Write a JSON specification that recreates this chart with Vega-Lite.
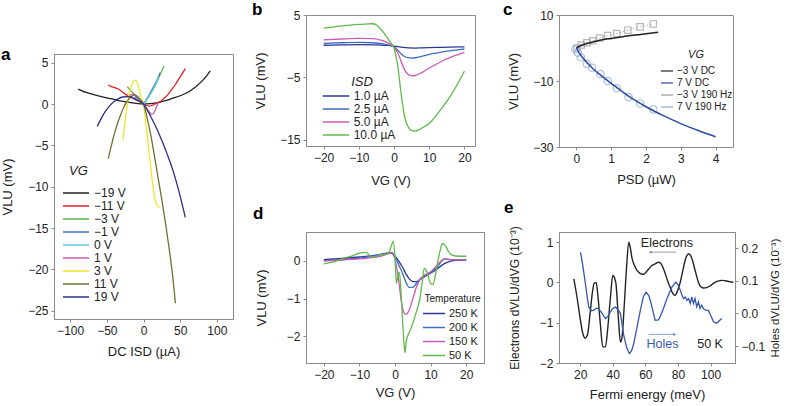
{
"$schema":"https://vega.github.io/schema/vega-lite/v6.json",
"padding":0,
"config":{"font":"Liberation Sans","view":{"stroke":"#8a8a8a","strokeWidth":1},
"axis":{"grid":false,"domainColor":"#8a8a8a","tickColor":"#8a8a8a","tickSize":3,"labelPadding":3,"labelFontSize":12,"labelColor":"#222","titleFontSize":13,"titleFontWeight":"normal","titleColor":"#222","labelFont":"Liberation Sans","titleFont":"Liberation Sans"},
"legend":{"labelFont":"Liberation Sans","titleFont":"Liberation Sans","labelColor":"#222","titleColor":"#222","titleFontWeight":"normal","padding":0},
"title":{"font":"Liberation Sans","fontSize":17,"fontWeight":"bold","anchor":"start","frame":"group","offset":0,"color":"#000","baseline":"alphabetic"},
"text":{"font":"Liberation Sans","fontSize":12.5,"color":"#222"}},
"datasets":{
"a":[
{"s":"−19 V","x":-89,"y":1.8},{"s":"−19 V","x":-84,"y":1.6},{"s":"−19 V","x":-78,"y":1.4},{"s":"−19 V","x":-70,"y":1.2},{"s":"−19 V","x":-60,"y":0.95},{"s":"−19 V","x":-50,"y":0.75},{"s":"−19 V","x":-40,"y":0.55},{"s":"−19 V","x":-30,"y":0.35},{"s":"−19 V","x":-20,"y":0.2},{"s":"−19 V","x":-10,"y":0.08},{"s":"−19 V","x":0,"y":0},{"s":"−19 V","x":10,"y":0.05},{"s":"−19 V","x":20,"y":0.18},{"s":"−19 V","x":30,"y":0.4},{"s":"−19 V","x":40,"y":0.7},{"s":"−19 V","x":50,"y":1.0},{"s":"−19 V","x":60,"y":1.4},{"s":"−19 V","x":70,"y":2.0},{"s":"−19 V","x":80,"y":2.8},{"s":"−19 V","x":86,"y":3.4},{"s":"−19 V","x":91,"y":4.0},
{"s":"−11 V","x":-48,"y":2.3},{"s":"−11 V","x":-44,"y":2.1},{"s":"−11 V","x":-40,"y":2.0},{"s":"−11 V","x":-35,"y":1.85},{"s":"−11 V","x":-30,"y":1.55},{"s":"−11 V","x":-25,"y":1.2},{"s":"−11 V","x":-20,"y":0.95},{"s":"−11 V","x":-15,"y":0.7},{"s":"−11 V","x":-10,"y":0.5},{"s":"−11 V","x":-5,"y":0.25},{"s":"−11 V","x":0,"y":0},{"s":"−11 V","x":4,"y":-0.15},{"s":"−11 V","x":8,"y":-0.25},{"s":"−11 V","x":12,"y":-0.15},{"s":"−11 V","x":18,"y":0.1},{"s":"−11 V","x":23,"y":0.3},{"s":"−11 V","x":28,"y":0.7},{"s":"−11 V","x":33,"y":1.1},{"s":"−11 V","x":38,"y":1.7},{"s":"−11 V","x":43,"y":2.3},{"s":"−11 V","x":48,"y":3.0},{"s":"−11 V","x":53,"y":3.7},{"s":"−11 V","x":57,"y":4.3},
{"s":"−3 V","x":-22,"y":2.1},{"s":"−3 V","x":-19,"y":1.8},{"s":"−3 V","x":-16,"y":1.5},{"s":"−3 V","x":-12,"y":1.1},{"s":"−3 V","x":-8,"y":0.7},{"s":"−3 V","x":-4,"y":0.3},{"s":"−3 V","x":0,"y":0},{"s":"−3 V","x":4,"y":0.5},{"s":"−3 V","x":8,"y":1.0},{"s":"−3 V","x":12,"y":1.6},{"s":"−3 V","x":16,"y":2.3},{"s":"−3 V","x":20,"y":3.0},{"s":"−3 V","x":24,"y":3.8},{"s":"−3 V","x":28,"y":4.6},
{"s":"−1 V","x":-12,"y":0.9},{"s":"−1 V","x":-8,"y":0.65},{"s":"−1 V","x":-4,"y":0.35},{"s":"−1 V","x":0,"y":0},{"s":"−1 V","x":4,"y":0.55},{"s":"−1 V","x":8,"y":1.15},{"s":"−1 V","x":12,"y":1.8},{"s":"−1 V","x":16,"y":2.5},{"s":"−1 V","x":20,"y":3.2},{"s":"−1 V","x":22.5,"y":3.8},
{"s":"0 V","x":-10,"y":0.7},{"s":"0 V","x":-6,"y":0.45},{"s":"0 V","x":-3,"y":0.2},{"s":"0 V","x":0,"y":0},{"s":"0 V","x":4,"y":0.45},{"s":"0 V","x":8,"y":1.0},{"s":"0 V","x":12,"y":1.6},{"s":"0 V","x":16,"y":2.3},{"s":"0 V","x":20.5,"y":3.3},
{"s":"1 V","x":-22,"y":0.9},{"s":"1 V","x":-17,"y":1.15},{"s":"1 V","x":-13,"y":1.2},{"s":"1 V","x":-9,"y":0.9},{"s":"1 V","x":-5,"y":0.5},{"s":"1 V","x":0,"y":0},{"s":"1 V","x":4,"y":-0.5},{"s":"1 V","x":8,"y":-0.95},{"s":"1 V","x":11,"y":-1.25},{"s":"1 V","x":14,"y":-1.1},{"s":"1 V","x":17,"y":-0.5},{"s":"1 V","x":20,"y":0.1},
{"s":"3 V","x":-28,"y":-4.3},{"s":"3 V","x":-26,"y":-2.7},{"s":"3 V","x":-24,"y":-1.2},{"s":"3 V","x":-22,"y":0.0},{"s":"3 V","x":-20,"y":1.0},{"s":"3 V","x":-18,"y":1.8},{"s":"3 V","x":-16,"y":2.3},{"s":"3 V","x":-14,"y":2.7},{"s":"3 V","x":-12,"y":2.9},{"s":"3 V","x":-10,"y":2.85},{"s":"3 V","x":-8,"y":2.5},{"s":"3 V","x":-6,"y":1.8},{"s":"3 V","x":-4,"y":1.1},{"s":"3 V","x":-2,"y":0.5},{"s":"3 V","x":0,"y":0},{"s":"3 V","x":3,"y":-2.2},{"s":"3 V","x":6,"y":-4.6},{"s":"3 V","x":9,"y":-7.0},{"s":"3 V","x":12,"y":-9.3},{"s":"3 V","x":15,"y":-11.3},{"s":"3 V","x":17,"y":-12.0},{"s":"3 V","x":19,"y":-12.3},{"s":"3 V","x":22,"y":-12.5},
{"s":"11 V","x":-48,"y":-6.6},{"s":"11 V","x":-44,"y":-5.1},{"s":"11 V","x":-40,"y":-3.7},{"s":"11 V","x":-36,"y":-2.5},{"s":"11 V","x":-32,"y":-1.5},{"s":"11 V","x":-28,"y":-0.6},{"s":"11 V","x":-24,"y":0.1},{"s":"11 V","x":-20,"y":0.6},{"s":"11 V","x":-16,"y":0.95},{"s":"11 V","x":-12,"y":1.1},{"s":"11 V","x":-8,"y":0.9},{"s":"11 V","x":-4,"y":0.5},{"s":"11 V","x":0,"y":0},{"s":"11 V","x":5,"y":-1.7},{"s":"11 V","x":10,"y":-3.8},{"s":"11 V","x":15,"y":-6.3},{"s":"11 V","x":20,"y":-9.0},{"s":"11 V","x":25,"y":-11.6},{"s":"11 V","x":30,"y":-14.4},{"s":"11 V","x":35,"y":-17.5},{"s":"11 V","x":40,"y":-21.0},{"s":"11 V","x":43.5,"y":-24.1},
{"s":"19 V","x":-63,"y":-2.7},{"s":"19 V","x":-58,"y":-1.8},{"s":"19 V","x":-52,"y":-0.9},{"s":"19 V","x":-46,"y":-0.2},{"s":"19 V","x":-40,"y":0.3},{"s":"19 V","x":-34,"y":0.65},{"s":"19 V","x":-28,"y":0.85},{"s":"19 V","x":-22,"y":0.9},{"s":"19 V","x":-16,"y":0.8},{"s":"19 V","x":-10,"y":0.55},{"s":"19 V","x":-5,"y":0.3},{"s":"19 V","x":0,"y":0},{"s":"19 V","x":8,"y":-1.2},{"s":"19 V","x":16,"y":-2.6},{"s":"19 V","x":24,"y":-4.2},{"s":"19 V","x":32,"y":-6.0},{"s":"19 V","x":40,"y":-8.0},{"s":"19 V","x":46,"y":-9.8},{"s":"19 V","x":51,"y":-11.5},{"s":"19 V","x":54,"y":-12.6},{"s":"19 V","x":57,"y":-13.7}
],
"b":[
{"s":"1.0 µA","x":-20,"y":0.15},{"s":"1.0 µA","x":-15,"y":0.2},{"s":"1.0 µA","x":-10,"y":0.25},{"s":"1.0 µA","x":-5,"y":0.22},{"s":"1.0 µA","x":-2,"y":0.12},{"s":"1.0 µA","x":0,"y":0},{"s":"1.0 µA","x":2,"y":-0.15},{"s":"1.0 µA","x":4,"y":-0.28},{"s":"1.0 µA","x":6,"y":-0.3},{"s":"1.0 µA","x":8,"y":-0.27},{"s":"1.0 µA","x":12,"y":-0.2},{"s":"1.0 µA","x":16,"y":-0.14},{"s":"1.0 µA","x":20,"y":-0.1},
{"s":"2.5 µA","x":-20,"y":0.45},{"s":"2.5 µA","x":-15,"y":0.55},{"s":"2.5 µA","x":-10,"y":0.6},{"s":"2.5 µA","x":-6,"y":0.55},{"s":"2.5 µA","x":-3,"y":0.35},{"s":"2.5 µA","x":-1,"y":0.1},{"s":"2.5 µA","x":0,"y":-0.1},{"s":"2.5 µA","x":1,"y":-0.6},{"s":"2.5 µA","x":2,"y":-1.2},{"s":"2.5 µA","x":3,"y":-1.65},{"s":"2.5 µA","x":4,"y":-1.85},{"s":"2.5 µA","x":5,"y":-1.9},{"s":"2.5 µA","x":6,"y":-1.85},{"s":"2.5 µA","x":8,"y":-1.6},{"s":"2.5 µA","x":10,"y":-1.3},{"s":"2.5 µA","x":12,"y":-1.1},{"s":"2.5 µA","x":15,"y":-0.8},{"s":"2.5 µA","x":18,"y":-0.6},{"s":"2.5 µA","x":20,"y":-0.45},
{"s":"5.0 µA","x":-20,"y":1.0},{"s":"5.0 µA","x":-15,"y":1.15},{"s":"5.0 µA","x":-10,"y":1.25},{"s":"5.0 µA","x":-6,"y":1.2},{"s":"5.0 µA","x":-4,"y":1.0},{"s":"5.0 µA","x":-2,"y":0.6},{"s":"5.0 µA","x":0,"y":-0.2},{"s":"5.0 µA","x":1,"y":-1.0},{"s":"5.0 µA","x":2,"y":-2.4},{"s":"5.0 µA","x":3,"y":-3.8},{"s":"5.0 µA","x":4,"y":-4.5},{"s":"5.0 µA","x":5,"y":-4.75},{"s":"5.0 µA","x":6,"y":-4.7},{"s":"5.0 µA","x":8,"y":-4.2},{"s":"5.0 µA","x":10,"y":-3.5},{"s":"5.0 µA","x":12,"y":-2.9},{"s":"5.0 µA","x":14,"y":-2.3},{"s":"5.0 µA","x":16,"y":-1.8},{"s":"5.0 µA","x":18,"y":-1.4},{"s":"5.0 µA","x":20,"y":-1.0},
{"s":"10.0 µA","x":-20,"y":2.9},{"s":"10.0 µA","x":-17,"y":3.1},{"s":"10.0 µA","x":-14,"y":3.3},{"s":"10.0 µA","x":-11,"y":3.45},{"s":"10.0 µA","x":-8,"y":3.55},{"s":"10.0 µA","x":-6,"y":3.6},{"s":"10.0 µA","x":-5,"y":3.4},{"s":"10.0 µA","x":-4,"y":2.9},{"s":"10.0 µA","x":-3,"y":2.2},{"s":"10.0 µA","x":-2,"y":1.4},{"s":"10.0 µA","x":-1,"y":0.6},{"s":"10.0 µA","x":0,"y":-0.3},{"s":"10.0 µA","x":1,"y":-3.0},{"s":"10.0 µA","x":2,"y":-7.5},{"s":"10.0 µA","x":3,"y":-11.3},{"s":"10.0 µA","x":4,"y":-12.9},{"s":"10.0 µA","x":5,"y":-13.5},{"s":"10.0 µA","x":6,"y":-13.6},{"s":"10.0 µA","x":7,"y":-13.4},{"s":"10.0 µA","x":8,"y":-13.1},{"s":"10.0 µA","x":10,"y":-12.4},{"s":"10.0 µA","x":12,"y":-11.1},{"s":"10.0 µA","x":14,"y":-9.6},{"s":"10.0 µA","x":16,"y":-8.0},{"s":"10.0 µA","x":18,"y":-6.1},{"s":"10.0 µA","x":20,"y":-4.0}
],
"c":[
{"s":"−3 V DC","x":0,"y":0},{"s":"−3 V DC","x":0.1,"y":0.6},{"s":"−3 V DC","x":0.25,"y":1.2},{"s":"−3 V DC","x":0.5,"y":1.9},{"s":"−3 V DC","x":0.75,"y":2.5},{"s":"−3 V DC","x":1.0,"y":2.9},{"s":"−3 V DC","x":1.25,"y":3.3},{"s":"−3 V DC","x":1.5,"y":3.7},{"s":"−3 V DC","x":1.75,"y":4.0},{"s":"−3 V DC","x":2.0,"y":4.35},{"s":"−3 V DC","x":2.35,"y":4.8},
{"s":"7 V DC","x":0,"y":0},{"s":"7 V DC","x":0.1,"y":-1.8},{"s":"7 V DC","x":0.25,"y":-3.8},{"s":"7 V DC","x":0.5,"y":-6.5},{"s":"7 V DC","x":0.75,"y":-8.7},{"s":"7 V DC","x":1.0,"y":-10.7},{"s":"7 V DC","x":1.5,"y":-14.6},{"s":"7 V DC","x":2.0,"y":-17.8},{"s":"7 V DC","x":2.5,"y":-20.5},{"s":"7 V DC","x":3.0,"y":-22.9},{"s":"7 V DC","x":3.5,"y":-25.0},{"s":"7 V DC","x":4.0,"y":-26.9},
{"s":"−3 V 190 Hz","x":0.02,"y":0.0},{"s":"−3 V 190 Hz","x":0.14,"y":0.9},{"s":"−3 V 190 Hz","x":0.3,"y":1.6},{"s":"−3 V 190 Hz","x":0.47,"y":2.2},{"s":"−3 V 190 Hz","x":0.67,"y":3.0},{"s":"−3 V 190 Hz","x":0.9,"y":3.8},{"s":"−3 V 190 Hz","x":1.16,"y":4.4},{"s":"−3 V 190 Hz","x":1.48,"y":5.4},{"s":"−3 V 190 Hz","x":1.83,"y":6.4},{"s":"−3 V 190 Hz","x":2.21,"y":7.3},
{"s":"7 V 190 Hz","x":-0.03,"y":-0.4},{"s":"7 V 190 Hz","x":0.04,"y":-1.4},{"s":"7 V 190 Hz","x":0.13,"y":-2.8},{"s":"7 V 190 Hz","x":0.3,"y":-4.8},{"s":"7 V 190 Hz","x":0.45,"y":-6.0},{"s":"7 V 190 Hz","x":0.69,"y":-7.9},{"s":"7 V 190 Hz","x":0.9,"y":-10.0},{"s":"7 V 190 Hz","x":1.16,"y":-12.2},{"s":"7 V 190 Hz","x":1.5,"y":-14.9},{"s":"7 V 190 Hz","x":1.83,"y":-16.8},{"s":"7 V 190 Hz","x":2.21,"y":-18.6}
],
"d":[
{"s":"250 K","x":-20,"y":0.03},{"s":"250 K","x":-15,"y":0.06},{"s":"250 K","x":-10,"y":0.1},{"s":"250 K","x":-5,"y":0.15},{"s":"250 K","x":-2,"y":0.2},{"s":"250 K","x":-1,"y":0.2},{"s":"250 K","x":0,"y":0.12},{"s":"250 K","x":1,"y":0.0},{"s":"250 K","x":2,"y":-0.15},{"s":"250 K","x":3,"y":-0.33},{"s":"250 K","x":4,"y":-0.48},{"s":"250 K","x":5,"y":-0.55},{"s":"250 K","x":6,"y":-0.55},{"s":"250 K","x":7,"y":-0.5},{"s":"250 K","x":8,"y":-0.44},{"s":"250 K","x":10,"y":-0.33},{"s":"250 K","x":12,"y":-0.2},{"s":"250 K","x":14,"y":-0.07},{"s":"250 K","x":16,"y":0.0},{"s":"250 K","x":18,"y":0.02},{"s":"250 K","x":20,"y":0.02},
{"s":"200 K","x":-20,"y":0.0},{"s":"200 K","x":-15,"y":0.03},{"s":"200 K","x":-10,"y":0.07},{"s":"200 K","x":-5,"y":0.14},{"s":"200 K","x":-2,"y":0.2},{"s":"200 K","x":-1,"y":0.22},{"s":"200 K","x":0,"y":0.12},{"s":"200 K","x":1,"y":-0.1},{"s":"200 K","x":2,"y":-0.3},{"s":"200 K","x":3,"y":-0.55},{"s":"200 K","x":4,"y":-0.7},{"s":"200 K","x":5,"y":-0.7},{"s":"200 K","x":6,"y":-0.6},{"s":"200 K","x":7,"y":-0.48},{"s":"200 K","x":8,"y":-0.4},{"s":"200 K","x":10,"y":-0.3},{"s":"200 K","x":12,"y":-0.15},{"s":"200 K","x":13,"y":-0.02},{"s":"200 K","x":14,"y":0.05},{"s":"200 K","x":16,"y":0.03},{"s":"200 K","x":20,"y":0.02},
{"s":"150 K","x":-20,"y":0.0},{"s":"150 K","x":-15,"y":0.02},{"s":"150 K","x":-10,"y":0.05},{"s":"150 K","x":-5,"y":0.1},{"s":"150 K","x":-3,"y":0.15},{"s":"150 K","x":-1,"y":0.2},{"s":"150 K","x":0,"y":0.05},{"s":"150 K","x":1,"y":-0.5},{"s":"150 K","x":2,"y":-1.2},{"s":"150 K","x":3,"y":-1.42},{"s":"150 K","x":4,"y":-1.3},{"s":"150 K","x":5,"y":-1.0},{"s":"150 K","x":6,"y":-0.7},{"s":"150 K","x":7,"y":-0.5},{"s":"150 K","x":8,"y":-0.4},{"s":"150 K","x":9,"y":-0.35},{"s":"150 K","x":10,"y":-0.3},{"s":"150 K","x":11,"y":-0.2},{"s":"150 K","x":12,"y":-0.1},{"s":"150 K","x":13,"y":0.0},{"s":"150 K","x":14,"y":0.05},{"s":"150 K","x":16,"y":0.03},{"s":"150 K","x":20,"y":0.02},
{"s":"50 K","x":-20,"y":-0.08},{"s":"50 K","x":-17,"y":-0.02},{"s":"50 K","x":-14,"y":0.08},{"s":"50 K","x":-12,"y":0.13},{"s":"50 K","x":-10,"y":0.2},{"s":"50 K","x":-8,"y":0.22},{"s":"50 K","x":-7,"y":0.12},{"s":"50 K","x":-6,"y":0.1},{"s":"50 K","x":-4,"y":0.16},{"s":"50 K","x":-2,"y":0.18},{"s":"50 K","x":-1,"y":0.4},{"s":"50 K","x":-0.5,"y":0.52},{"s":"50 K","x":0,"y":0.1},{"s":"50 K","x":0.4,"y":-0.6},{"s":"50 K","x":0.8,"y":-0.4},{"s":"50 K","x":1.2,"y":-0.3},{"s":"50 K","x":1.8,"y":-1.0},{"s":"50 K","x":2.4,"y":-2.0},{"s":"50 K","x":2.8,"y":-2.43},{"s":"50 K","x":3.2,"y":-2.1},{"s":"50 K","x":4,"y":-1.9},{"s":"50 K","x":5,"y":-1.65},{"s":"50 K","x":6,"y":-1.35},{"s":"50 K","x":7,"y":-1.0},{"s":"50 K","x":7.6,"y":-0.6},{"s":"50 K","x":8.2,"y":-0.2},{"s":"50 K","x":9,"y":-0.3},{"s":"50 K","x":10,"y":-0.6},{"s":"50 K","x":10.7,"y":-0.62},{"s":"50 K","x":11.5,"y":-0.3},{"s":"50 K","x":12.5,"y":0.2},{"s":"50 K","x":13.3,"y":0.45},{"s":"50 K","x":14,"y":0.42},{"s":"50 K","x":15,"y":0.25},{"s":"50 K","x":16,"y":0.15},{"s":"50 K","x":18,"y":0.12},{"s":"50 K","x":20,"y":0.12}
],
"e1":[
{"x":16.1,"y":0.09},{"x":18,"y":-0.35},{"x":20,"y":-0.9},{"x":21.5,"y":-1.25},{"x":23,"y":-1.38},{"x":24.5,"y":-1.3},{"x":26,"y":-0.8},{"x":27.5,"y":-0.25},{"x":28.5,"y":-0.03},{"x":29.8,"y":0.0},{"x":30.8,"y":-0.3},{"x":32.3,"y":-1.0},{"x":33.9,"y":-1.6},{"x":35.5,"y":-1.6},{"x":37,"y":-1.1},{"x":38.5,"y":-0.4},{"x":40,"y":0.17},{"x":41,"y":0.12},{"x":42,"y":-0.05},{"x":43.3,"y":-0.8},{"x":44.7,"y":-1.48},{"x":45.7,"y":-1.35},{"x":47,"y":-0.6},{"x":48.5,"y":0.4},{"x":49.8,"y":1.0},{"x":50.8,"y":0.85},{"x":51.8,"y":0.6},{"x":53.3,"y":0.42},{"x":54.9,"y":0.3},{"x":57,"y":0.22},{"x":59,"y":0.2},{"x":60.5,"y":0.26},{"x":62,"y":0.33},{"x":64,"y":0.42},{"x":66,"y":0.46},{"x":68,"y":0.5},{"x":69.5,"y":0.47},{"x":71,"y":0.35},{"x":72.5,"y":0.18},{"x":74,"y":0.0},{"x":75.2,"y":-0.12},{"x":76.8,"y":-0.27},{"x":78.3,"y":-0.32},{"x":79.8,"y":-0.2},{"x":81.4,"y":0.0},{"x":83,"y":0.3},{"x":84.8,"y":0.6},{"x":86.5,"y":0.71},{"x":88.5,"y":0.6},{"x":90.5,"y":0.3},{"x":92.6,"y":0.0},{"x":94,"y":-0.11},{"x":95.7,"y":-0.14},{"x":97.5,"y":-0.13},{"x":99.7,"y":-0.09},{"x":102,"y":-0.02},{"x":104.5,"y":0.03},{"x":106.9,"y":0.05},{"x":109,"y":0.04},{"x":111.5,"y":0.02},{"x":114,"y":0.0}
],
"e2":[
{"x":20.2,"y":0.187},{"x":21.5,"y":0.15},{"x":23.2,"y":0.091},{"x":24.3,"y":0.05},{"x":25.3,"y":0.019},{"x":27,"y":0.008},{"x":28.4,"y":0.01},{"x":30,"y":0.016},{"x":31.4,"y":0.014},{"x":33.5,"y":0.0},{"x":35.5,"y":-0.016},{"x":37,"y":-0.01},{"x":38.5,"y":0.004},{"x":40,"y":0.015},{"x":41.6,"y":0.019},{"x":43.2,"y":0.012},{"x":44.7,"y":0.0},{"x":46.7,"y":-0.067},{"x":48.5,"y":-0.105},{"x":50.2,"y":-0.123},{"x":51.5,"y":-0.115},{"x":52.8,"y":-0.094},{"x":55,"y":-0.04},{"x":56.9,"y":0.009},{"x":58.7,"y":0.05},{"x":60.4,"y":0.065},{"x":62,"y":0.055},{"x":63,"y":0.04},{"x":64.5,"y":0.01},{"x":66,"y":-0.021},{"x":68.1,"y":-0.02},{"x":70,"y":0.0},{"x":72.2,"y":0.03},{"x":74,"y":0.055},{"x":76.3,"y":0.08},{"x":78.7,"y":0.096},{"x":80,"y":0.088},{"x":81.4,"y":0.071},{"x":82.5,"y":0.055},{"x":83.4,"y":0.045},{"x":84.5,"y":0.05},{"x":85.5,"y":0.04},{"x":86.5,"y":0.045},{"x":87.5,"y":0.03},{"x":88.5,"y":0.05},{"x":89.5,"y":0.03},{"x":90.5,"y":0.045},{"x":91.5,"y":0.02},{"x":92.6,"y":0.035},{"x":93.5,"y":0.015},{"x":94.5,"y":0.025},{"x":95.7,"y":0.014},{"x":97,"y":0.01},{"x":98.7,"y":0.009},{"x":100,"y":-0.005},{"x":101.8,"y":-0.026},{"x":103.8,"y":-0.03},{"x":105.5,"y":-0.022},{"x":106.9,"y":-0.016}
]
},
"hconcat":[
{"vconcat":[
 {"width":179,"height":39,"data":{"values":[{}]},"mark":{"type":"text"},"encoding":{"text":{"value":""}},"view":{"stroke":null}},
 {"width":179,"height":265,
  "title":{"text":"a","dx":-53,"dy":14},
  "layer":[
   {"mark":{"type":"rule","color":"#8a8a8a","strokeWidth":1},"encoding":{"y":{"datum":0}}},
   {"mark":{"type":"rule","color":"#8a8a8a","strokeWidth":1},"encoding":{"x":{"datum":0}}},
   {"data":{"name":"a"},"mark":{"type":"line","interpolate":"monotone","strokeWidth":1.3},
    "encoding":{
     "x":{"field":"x","type":"quantitative","scale":{"domain":[-122,122],"nice":false,"zero":false},"axis":{"title":"DC ISD (µA)","values":[-100,-50,0,50,100],"titlePadding":9}},
     "y":{"field":"y","type":"quantitative","scale":{"domain":[-26,6.05],"nice":false,"zero":false},"axis":{"title":"VLU (mV)","values":[-25,-20,-15,-10,-5,0,5],"titlePadding":13}},
     "color":{"field":"s","type":"nominal","scale":{"domain":["−19 V","−11 V","−3 V","−1 V","0 V","1 V","3 V","11 V","19 V"],"range":["#231f20","#e41f26","#5bb947","#4070c0","#62cde3","#c45ab3","#f0e32a","#707035","#2d2f87"]},
      "legend":{"title":"VG","orient":"none","legendX":15,"legendY":150,"symbolType":"M-2.17,0H2.17","symbolSize":144,"symbolStrokeWidth":1.5,"labelFontSize":12,"titleFontSize":13,"titleFontStyle":"italic","titlePadding":8,"labelOffset":11,"rowPadding":0}}}},
   {"mark":{"type":"text","align":"center","fontSize":12.5},"encoding":{"x":{"datum":82},"y":{"datum":-22.2},"text":{"value":"300 K"}}}
  ]}
 ],"spacing":0,"bounds":"flush"},
{"vconcat":[
  {"width":169,"height":131,
   "title":{"text":"b","dx":-54,"dy":14},
   "layer":[
    {"mark":{"type":"rule","color":"#8a8a8a","strokeWidth":1},"encoding":{"y":{"datum":0}}},
    {"mark":{"type":"rule","color":"#8a8a8a","strokeWidth":1},"encoding":{"x":{"datum":0}}},
    {"data":{"name":"b"},"mark":{"type":"line","interpolate":"monotone","strokeWidth":1.3},
     "encoding":{
      "x":{"field":"x","type":"quantitative","scale":{"domain":[-25,23],"nice":false,"zero":false},"axis":{"title":"VG (V)","values":[-20,-10,0,10,20],"titlePadding":11}},
      "y":{"field":"y","type":"quantitative","scale":{"domain":[-16,5],"nice":false,"zero":false},"axis":{"title":"VLU (mV)","values":[-15,-10,-5,0,5],"titlePadding":12}},
      "color":{"field":"s","type":"nominal","scale":{"domain":["1.0 µA","2.5 µA","5.0 µA","10.0 µA"],"range":["#283891","#3d6cc4","#c95ab5","#5fba4a"]},
       "legend":{"title":"ISD","orient":"none","legendX":23,"legendY":61,"symbolType":"M-2.2,0H2.2","symbolSize":144,"symbolStrokeWidth":1.5,"labelFontSize":12,"titleFontSize":13,"titleFontStyle":"italic","titlePadding":0,"labelOffset":10.7,"rowPadding":0,"titleAnchor":"middle"}}}},
    {"mark":{"type":"text","align":"left","fontSize":12.5},"encoding":{"x":{"datum":3.9},"y":{"datum":3.8},"text":{"value":"300 K"}}},
    {"mark":{"type":"text","align":"left","fontSize":12.5},"encoding":{"x":{"datum":3.9},"y":{"datum":1.6},"text":{"value":"190 Hz"}}}
   ]},
  {"width":178,"height":131,
   "title":{"text":"d","dx":-53,"dy":-5},
   "layer":[
    {"mark":{"type":"rule","color":"#8a8a8a","strokeWidth":1},"encoding":{"y":{"datum":0}}},
    {"mark":{"type":"rule","color":"#8a8a8a","strokeWidth":1},"encoding":{"x":{"datum":0}}},
    {"data":{"name":"d"},"mark":{"type":"line","interpolate":"monotone","strokeWidth":1.3},
     "encoding":{
      "x":{"field":"x","type":"quantitative","scale":{"domain":[-25,25],"nice":false,"zero":false},"axis":{"title":"VG (V)","values":[-20,-10,0,10,20],"titlePadding":6}},
      "y":{"field":"y","type":"quantitative","scale":{"domain":[-2.7,0.76],"nice":false,"zero":false},"axis":{"title":"VLU (mV)","values":[-2,-1,0],"titlePadding":18}},
      "color":{"field":"s","type":"nominal","scale":{"domain":["250 K","200 K","150 K","50 K"],"range":["#283891","#3d6cc4","#c95ab5","#5fba4a"]},
       "legend":{"title":"Temperature","orient":"none","legendX":118.5,"legendY":62,"symbolType":"M-2,0H2","symbolSize":121,"symbolStrokeWidth":1.5,"labelFontSize":11,"titleFontSize":10,"titlePadding":3,"labelOffset":8.5,"rowPadding":2,"titleAnchor":"middle"}}}},
    {"mark":{"type":"text","align":"left","fontSize":12.5},"encoding":{"x":{"datum":-22.1},"y":{"datum":-2.0},"text":{"value":"5 µA"}}},
    {"mark":{"type":"text","align":"left","fontSize":12.5},"encoding":{"x":{"datum":-22.1},"y":{"datum":-2.45},"text":{"value":"190 Hz"}}}
   ]}
 ],"spacing":86,"bounds":"flush","resolve":{"scale":{"color":"independent"},"legend":{"color":"independent"}}},
{"vconcat":[
  {"width":174,"height":132,
   "title":{"text":"c","dx":-56,"dy":14},
   "layer":[
    {"mark":{"type":"rule","color":"#8a8a8a","strokeWidth":1},"encoding":{"y":{"datum":0}}},
    {"data":{"name":"c"},"transform":[{"filter":{"field":"s","oneOf":["−3 V 190 Hz","7 V 190 Hz"]}}],
     "mark":{"type":"line","strokeDash":[1.5,2],"strokeWidth":1,"opacity":0.8},
     "encoding":{"x":{"field":"x","type":"quantitative","scale":{"domain":[-0.5,4.5],"nice":false,"zero":false},"axis":{"title":"PSD (µW)","values":[0,1,2,3,4],"titlePadding":9}},
      "y":{"field":"y","type":"quantitative","scale":{"domain":[-30,10],"nice":false,"zero":false},"axis":{"title":"VLU (mV)","values":[-30,-20,-10,0,10],"titlePadding":12}},
      "color":{"field":"s","type":"nominal","scale":{"domain":["−3 V DC","7 V DC","−3 V 190 Hz","7 V 190 Hz"],"range":["#222222","#2c4ca0","#9a9a9a","#8da7d8"]},
       "legend":{"title":"VG","orient":"none","legendX":101,"legendY":34,"symbolType":"stroke","symbolSize":144,"symbolStrokeWidth":1.5,"labelFontSize":10,"titleFontSize":11,"titleFontStyle":"italic","titlePadding":4,"labelOffset":3,"rowPadding":0,"titleAnchor":"middle",
        "encode":{"symbols":{"update":{"shape":{"signal":"datum.value === '−3 V 190 Hz' ? 'square' : datum.value === '7 V 190 Hz' ? 'circle' : 'stroke'"},"size":{"signal":"datum.value === '−3 V 190 Hz' ? 40 : datum.value === '7 V 190 Hz' ? 50 : 144"},"fill":{"value":"transparent"}}}}}}}},
    {"data":{"name":"c"},"transform":[{"filter":{"field":"s","equal":"−3 V 190 Hz"}}],
     "mark":{"type":"point","shape":"square","filled":false,"size":40,"strokeWidth":1.2},
     "encoding":{"x":{"field":"x","type":"quantitative"},"y":{"field":"y","type":"quantitative"},"color":{"field":"s","type":"nominal"}}},
    {"data":{"name":"c"},"transform":[{"filter":{"field":"s","equal":"7 V 190 Hz"}}],
     "mark":{"type":"point","shape":"circle","filled":false,"size":55,"strokeWidth":1.2},
     "encoding":{"x":{"field":"x","type":"quantitative"},"y":{"field":"y","type":"quantitative"},"color":{"field":"s","type":"nominal"}}},
    {"data":{"name":"c"},"transform":[{"filter":{"field":"s","oneOf":["−3 V DC","7 V DC"]}}],
     "mark":{"type":"line","interpolate":"monotone","strokeWidth":1.5},
     "encoding":{"x":{"field":"x","type":"quantitative"},"y":{"field":"y","type":"quantitative"},"color":{"field":"s","type":"nominal"}}},
    {"mark":{"type":"text","align":"left","fontSize":12.5},"encoding":{"x":{"datum":-0.23},"y":{"datum":-26.7},"text":{"value":"300 K"}}}
   ]},
  {"width":176,"height":131,
   "title":{"text":"e","dx":-55,"dy":-5},
   "layer":[
     {"data":{"name":"e1"},"mark":{"type":"line","interpolate":"monotone","strokeWidth":1.4,"color":"#222222"},
      "encoding":{
       "x":{"field":"x","type":"quantitative","scale":{"domain":[7,115],"nice":false,"zero":false},"axis":{"title":"Fermi energy (meV)","values":[20,40,60,80,100],"titlePadding":8}},
       "y":{"field":"y","type":"quantitative","scale":{"domain":[-2,1.25],"nice":false,"zero":false},"axis":{"title":"Electrons dVLU/dVG (10⁻³)","values":[-2,-1,0,1],"titlePadding":18,"orient":"left","titleFontSize":12}}}},
     {"data":{"name":"e2"},"mark":{"type":"line","strokeWidth":1.3,"color":"#3457b0"},
      "encoding":{
       "x":{"field":"x","type":"quantitative"},
       "y":{"field":"y","type":"quantitative","scale":{"domain":[-0.152,0.249],"nice":false,"zero":false},"axis":{"title":"Holes dVLU/dVG (10⁻³)","values":[-0.1,0,0.1,0.2],"format":".1f","orient":"right","titlePadding":5,"titleAngle":-90,"titleBaseline":"top","titleFontSize":11.5}}}},
     {"data":{"values":[{}]},"mark":{"type":"text","align":"center","fontSize":12.5},"encoding":{"x":{"datum":73.2},"y":{"datum":0.98,"scale":{"domain":[-2,1.25]},"axis":null},"text":{"value":"Electrons"}}},
     {"data":{"values":[{}]},"mark":{"type":"rule","color":"#888888","strokeWidth":0.8},"encoding":{"x":{"datum":63},"x2":{"datum":79},"y":{"datum":0.75,"scale":{"domain":[-2,1.25]},"axis":null}}},
     {"data":{"values":[{}]},"mark":{"type":"point","shape":"triangle-left","filled":true,"size":10,"color":"#888888","opacity":1},"encoding":{"x":{"datum":63},"y":{"datum":0.75,"scale":{"domain":[-2,1.25]},"axis":null}}},
     {"data":{"values":[{}]},"mark":{"type":"text","align":"center","fontSize":12.5,"color":"#3457b0"},"encoding":{"x":{"datum":70.5},"y":{"datum":-1.52,"scale":{"domain":[-2,1.25]},"axis":null},"text":{"value":"Holes"}}},
     {"data":{"values":[{}]},"mark":{"type":"rule","color":"#6b86c8","strokeWidth":0.8},"encoding":{"x":{"datum":62},"x2":{"datum":78},"y":{"datum":-1.29,"scale":{"domain":[-2,1.25]},"axis":null}}},
     {"data":{"values":[{}]},"mark":{"type":"point","shape":"triangle-right","filled":true,"size":10,"color":"#6b86c8","opacity":1},"encoding":{"x":{"datum":78},"y":{"datum":-1.29,"scale":{"domain":[-2,1.25]},"axis":null}}},
     {"data":{"values":[{}]},"mark":{"type":"text","align":"center","fontSize":12.5},"encoding":{"x":{"datum":99.7},"y":{"datum":-1.54,"scale":{"domain":[-2,1.25]},"axis":null},"text":{"value":"50 K"}}}
   ],
   "resolve":{"scale":{"y":"independent"}}}
 ],"spacing":85,"bounds":"flush","resolve":{"scale":{"color":"independent"},"legend":{"color":"independent"}}}
],
"spacing":17,"bounds":"full","resolve":{"scale":{"color":"independent"},"legend":{"color":"independent"}}
}
